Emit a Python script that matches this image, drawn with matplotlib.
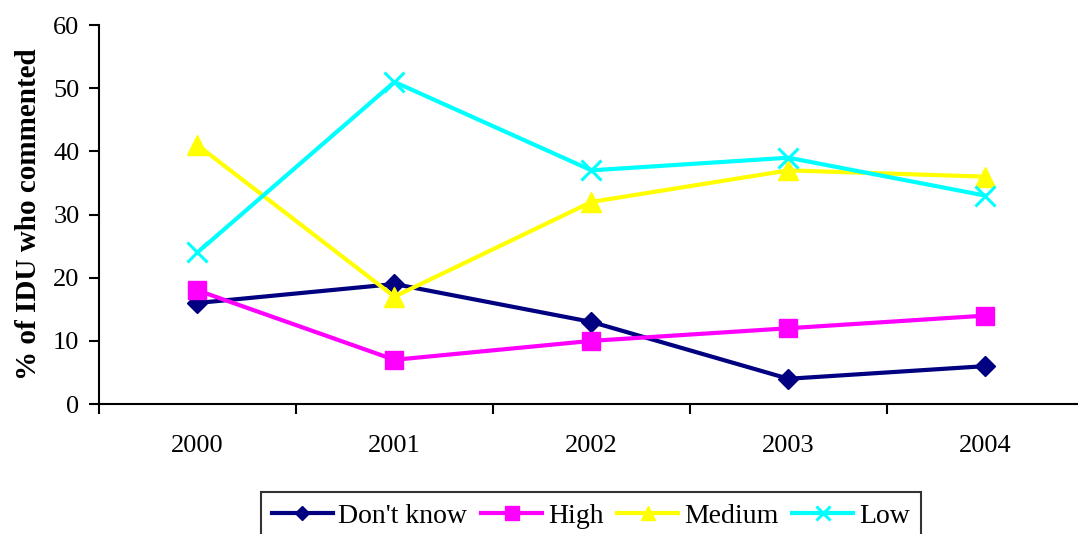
import matplotlib
matplotlib.use("Agg")
import matplotlib.pyplot as plt
import numpy as np

# --- data ---
years      = ["2000", "2001", "2002", "2003", "2004"]
dont_know  = [16, 19, 13, 4, 6]
high       = [18, 7, 10, 12, 14]
medium     = [41, 17, 32, 37, 36]
low        = [24, 51, 37, 39, 33]

plt.rcParams["font.family"] = ["Liberation Serif", "DejaVu Serif"]

fig = plt.figure(figsize=(10.78, 5.34), dpi=100)
ax = fig.add_axes([0.0918, 0.2434, 0.9137, 0.7096])

x = np.arange(len(years))
series = [
    ("Don't know", dont_know, "#000080", "D", 10),
    ("High",       high,      "#FF00FF", "s", 13),
    ("Medium",     medium,    "#FFFF00", "^", 14),
    ("Low",        low,       "#00FFFF", "x", 14),
]
for name, vals, color, mk, ms in series:
    ax.plot(x, vals, color=color, lw=3, marker=mk, ms=ms,
            mew=2.2 if mk == "x" else 1, mec=color, mfc=color,
            label=name, clip_on=False)

ax.set_xlim(-0.5, len(years) - 0.5)
ax.set_ylim(0, 60)
ax.set_yticks(range(0, 61, 10))
ax.tick_params(axis="y", labelsize=19, length=7, width=1.5, direction="out", pad=7)

# categories labelled at centres, tick marks at the boundaries
ax.set_xticks(x)
ax.set_xticklabels(years)
ax.tick_params(axis="x", which="major", length=0, labelsize=19, pad=22)
ax.set_xticks(np.arange(-0.5, len(years)), minor=True)
ax.tick_params(axis="x", which="minor", length=7, width=1.5, direction="out")

for side in ("top", "right"):
    ax.spines[side].set_visible(False)
for side in ("left", "bottom"):
    ax.spines[side].set_linewidth(1.5)

ax.set_ylabel("% of IDU who commented", fontsize=21, fontweight="bold", labelpad=8)

leg = fig.legend(loc="upper center", bbox_to_anchor=(0.548, 0.078), ncol=4,
                 fontsize=20, frameon=True, fancybox=False, edgecolor="black",
                 handlelength=2.2, handletextpad=0.2, columnspacing=0.5,
                 borderpad=0.4, borderaxespad=0, markerscale=0.75)
leg.get_frame().set_linewidth(1.5)

fig.savefig("out.png", dpi=100)
